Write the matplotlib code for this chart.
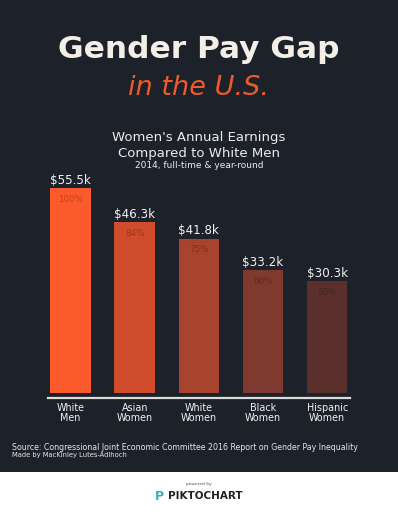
import matplotlib.pyplot as plt
from matplotlib.lines import Line2D
from matplotlib.patches import Rectangle

# data
groups = ["White\nMen", "Asian\nWomen", "White\nWomen", "Black\nWomen", "Hispanic\nWomen"]
earnings = [55.5, 46.3, 41.8, 33.2, 30.3]
value_labels = ["$55.5k", "$46.3k", "$41.8k", "$33.2k", "$30.3k"]
pct_labels = ["100%", "84%", "75%", "60%", "55%"]
bar_colors = ["#fb5a2c", "#cf4c2c", "#a8442e", "#7e3a2e", "#5a2f2c"]
pct_colors = ["#c0431e", "#9e381b", "#7e3020", "#5f2b21", "#452520"]

BG = "#1d2129"
W, H = 398, 512

def fy(py):
    return 1 - py / H

fig = plt.figure(figsize=(W / 100, H / 100), dpi=100, facecolor=BG)

# bottom white strip
fig.add_artist(Rectangle((0, 0), 1, fy(471.7), transform=fig.transFigure,
                         facecolor="white", edgecolor="none"))

# titles
fig.text(0.5, fy(49), "Gender Pay Gap", ha="center", va="center",
         color="#f3efe6", fontsize=22.5, fontweight="heavy", family="DejaVu Sans")
fig.text(0.5, fy(88), "in the U.S.", ha="center", va="center",
         color="#ee5a2c", fontsize=19.5, style="italic", family="DejaVu Sans")
fig.text(0.5, fy(138), "Women's Annual Earnings", ha="center", va="center",
         color="#ececec", fontsize=9.5, family="DejaVu Sans")
fig.text(0.5, fy(153), "Compared to White Men", ha="center", va="center",
         color="#ececec", fontsize=9.5, family="DejaVu Sans")
fig.text(0.5, fy(166), "2014, full-time & year-round", ha="center", va="center",
         color="#ececec", fontsize=6.5, family="DejaVu Sans")

# chart axes: left 47.7px, right 350px, bottom at bar base 392.7px, top 170px
ax_l, ax_r, ax_b, ax_t = 47.7, 350, 392.7, 170
ax = fig.add_axes([ax_l / W, fy(ax_b), (ax_r - ax_l) / W, (ax_b - ax_t) / H])
ax.set_facecolor("none")
x = range(len(groups))
ax.bar(x, earnings, width=0.63, color=bar_colors)
ax.set_xlim(-0.356, 4.356)
ax.set_ylim(0, 55.5 * (ax_b - ax_t) / 204.4)
ax.axis("off")

for i, v in enumerate(earnings):
    ax.annotate(value_labels[i], (i, v), xytext=(0, 1), textcoords="offset points",
                ha="center", va="bottom", color="#f2f2f2", fontsize=8.6,
                family="DejaVu Sans")
    ax.annotate(pct_labels[i], (i, v), xytext=(0, -8), textcoords="offset points",
                ha="center", va="center", color=pct_colors[i], fontsize=6.3,
                family="DejaVu Sans")
    ax.annotate(groups[i], (i, 0), xytext=(0, -7.5), textcoords="offset points",
                ha="center", va="top", color="#f2f2f2", fontsize=6.9,
                linespacing=0.95, family="DejaVu Sans")

# baseline
fig.add_artist(Line2D([ax_l / W, ax_r / W], [fy(398), fy(398)], transform=fig.transFigure,
                      color="#dcdcdc", linewidth=1.6))

# source
fig.text(12 / W, fy(448), "Source: Congressional Joint Economic Committee 2016 Report on Gender Pay Inequality",
         ha="left", va="center", color="#e6e6e6", fontsize=5.7, family="DejaVu Sans")
fig.text(12 / W, fy(455.5), "Made by MacKinley Lutes-Adlhoch",
         ha="left", va="center", color="#e6e6e6", fontsize=4.9, family="DejaVu Sans")

# footer
fig.text(0.5, fy(484), "powered by", ha="center", va="center",
         color="#555555", fontsize=3.2, family="DejaVu Sans")
fig.text(159 / W, fy(496), "P", ha="center", va="center",
         color="#2fb5b5", fontsize=9, fontweight="bold", family="DejaVu Sans")
fig.text(168 / W, fy(496), "PIKTOCHART", ha="left", va="center",
         color="#1d2129", fontsize=7.5, fontweight="bold", family="DejaVu Sans")

fig.savefig("out.png", dpi=100, facecolor=BG)
